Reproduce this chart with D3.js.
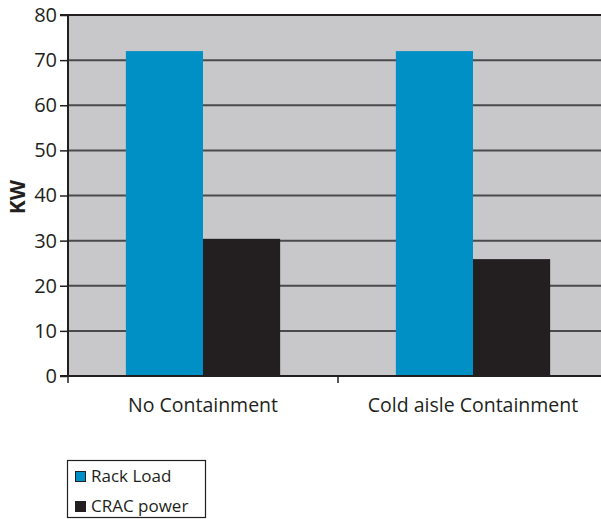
<!DOCTYPE html>
<html><head><meta charset="utf-8">
<script src="https://cdn.jsdelivr.net/npm/d3@7"></script>
<style>body{margin:0;background:#fff}svg{display:block}text{font-family:"Open Sans",Lato,sans-serif;fill:#231f20}</style>
</head><body><svg id="c" width="601" height="519"></svg>
<script>
const categories = ["No Containment", "Cold aisle Containment"];
const seriesNames = ["Rack Load", "CRAC power"];
const rackLoad = [72, 72];
const cracPower = [30.4, 25.9];
const yTicks = [0, 10, 20, 30, 40, 50, 60, 70, 80];
const colors = ["#0090c6", "#231f20"];

const svg = d3.select("#c");
const L = 68, R = 608, T = 15, B = 376;
const x0 = d3.scaleBand().domain(categories).range([L, R]).paddingInner(0).paddingOuter(0);
const x1 = d3.scaleBand().domain(seriesNames).range([0, x0.bandwidth()]).paddingInner(0).paddingOuter(0.75);
const y = d3.scaleLinear().domain([0, 80]).range([B, T]);

svg.append("rect").attr("x", L).attr("y", T).attr("width", R - L).attr("height", B - T).attr("fill", "#c8c8ca");
svg.append("g").selectAll("line").data(yTicks.filter(d => d > 0 && d < 80)).join("line")
  .attr("x1", L).attr("x2", R).attr("y1", d => y(d)).attr("y2", d => y(d))
  .attr("stroke", "#4a4a4c").attr("stroke-width", 2);
svg.append("line").attr("x1", L).attr("x2", R).attr("y1", T).attr("y2", T).attr("stroke", "#231f20").attr("stroke-width", 2);

const data = categories.map((c, i) => ({c, vals: [rackLoad[i], cracPower[i]]}));
const g = svg.append("g");
data.forEach(d => {
  d.vals.forEach((v, j) => {
    g.append("rect").attr("x", x0(d.c) + x1(seriesNames[j])).attr("width", x1.bandwidth())
      .attr("y", y(v)).attr("height", y(0) - y(v)).attr("fill", colors[j]);
  });
});

const yAxis = d3.axisLeft(y).tickValues(yTicks).tickSize(8).tickPadding(3).tickFormat(d3.format("d"));
const ya = svg.append("g").attr("transform", `translate(${L},0)`).call(yAxis);
ya.select(".domain").attr("stroke", "#231f20").attr("stroke-width", 2).attr("d", `M-8,${T}H0V${B}H-8`);
ya.selectAll(".tick line").attr("stroke", "#231f20").attr("stroke-width", 1.5);
ya.selectAll(".tick text").attr("font-size", 20).attr("font-family", "Open Sans").attr("fill", "#231f20");

svg.append("line").attr("x1", L - 1).attr("x2", R).attr("y1", B).attr("y2", B).attr("stroke", "#231f20").attr("stroke-width", 2);
svg.append("line").attr("x1", L).attr("x2", L).attr("y1", B).attr("y2", B + 7).attr("stroke", "#231f20").attr("stroke-width", 1.5);
categories.forEach(c => {
  svg.append("line").attr("x1", x0(c) + x0.bandwidth()).attr("x2", x0(c) + x0.bandwidth())
    .attr("y1", B).attr("y2", B + 7).attr("stroke", "#231f20").attr("stroke-width", 1.5);
  svg.append("text").attr("x", x0(c) + x0.bandwidth() / 2).attr("y", 412).attr("text-anchor", "middle")
    .attr("font-size", 19.5).text(c);
});

svg.append("text").attr("transform", `translate(25,197) rotate(-90)`).attr("text-anchor", "middle")
  .attr("font-size", 21).attr("font-weight", "bold").text("KW");

const lg = svg.append("g");
lg.append("rect").attr("x", 67.5).attr("y", 460.5).attr("width", 138).attr("height", 57).attr("fill", "none").attr("stroke", "#231f20").attr("stroke-width", 1.2);
seriesNames.forEach((s, i) => {
  lg.append("rect").attr("x", 75.5).attr("y", 471.5 + i * 30).attr("width", 10).attr("height", 10)
    .attr("fill", colors[i]).attr("stroke", "#231f20").attr("stroke-width", 1);
  lg.append("text").attr("x", 91).attr("y", 482 + i * 30).attr("font-size", 17).text(s);
});
</script></body></html>
